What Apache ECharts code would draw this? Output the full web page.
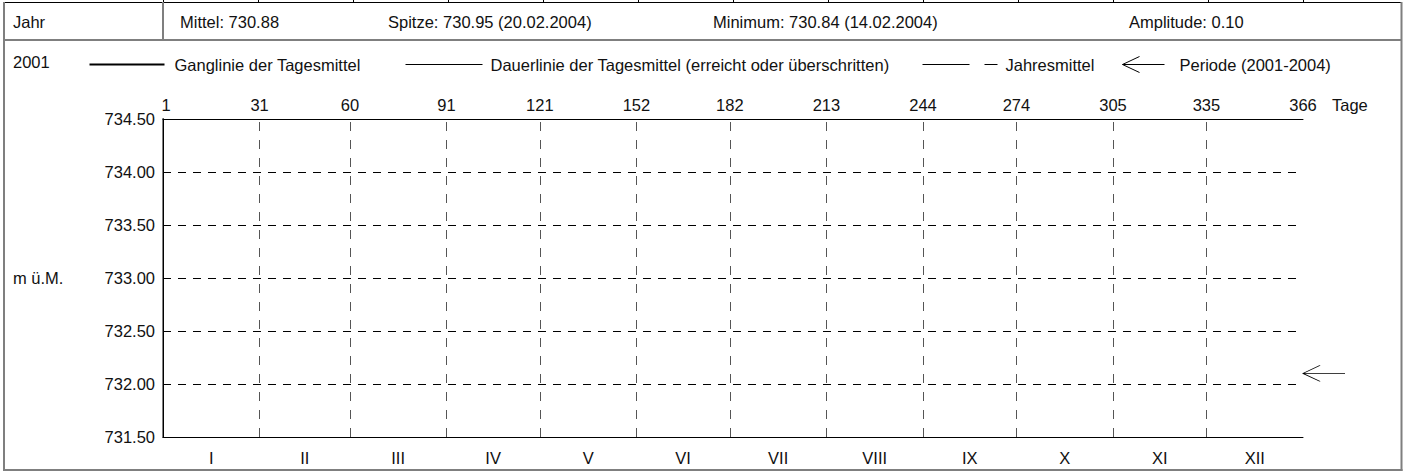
<!DOCTYPE html>
<html>
<head>
<meta charset="utf-8">
<title>Ganglinie 2001</title>
<script src="https://cdn.jsdelivr.net/npm/echarts@6.0.0/dist/echarts.min.js"></script>
<style>
  html, body { margin: 0; padding: 0; background: #fff; }
  #chart { width: 1406px; height: 472px; }
</style>
</head>
<body>
<div id="chart"></div>
<script>
// Tagesskala oben (Schaltjahr, 366 Tage)
const dayTicks = [1, 31, 60, 91, 121, 152, 182, 213, 244, 274, 305, 335, 366];
// Monatsgrenzen -> gestrichelte Senkrechte
const monthEnds = [31, 60, 91, 121, 152, 182, 213, 244, 274, 305, 335];
// Monatsmitten fuer die roemischen Monatsnamen
const monthMids = [15.5, 45.5, 75.5, 106, 136.5, 167, 197.5, 228.5, 259, 289.5, 320, 350.5];
const monthNames = ['I', 'II', 'III', 'IV', 'V', 'VI', 'VII', 'VIII', 'IX', 'X', 'XI', 'XII'];
// Hoehenskala m ü.M.
const levelMin = 731.5;
const levelMax = 734.5;
const levelStep = 0.5;
// Kennwerte der Kopfzeile
const headerTexts = ['Mittel: 730.88', 'Spitze: 730.95 (20.02.2004)', 'Minimum: 730.84 (14.02.2004)', 'Amplitude: 0.10'];
const headerLefts = [180, 388, 713, 1129];
// Reihen (Tageswerte liegen unterhalb des dargestellten Bereichs)
const ganglinie = [];
const dauerlinie = [];
const jahresmittel = [];
const periode = [[366, 732.10]];

const font = "'Liberation Sans', Arial, sans-serif";
const fs = 16.5;
const ink = '#111';
const frame = '#7f7f7f';
const arrowPath = 'path://M17,0 L0,8 L17,16 M0,8 L42,8';

let chart = echarts.init(document.getElementById('chart'), null, { renderer: 'svg' });

function legendBox(name, left, icon, width, lineWidth) {
    return {
        data: [{ name: name, icon: icon }],
        left: left,
        top: 54,
        padding: 0,
        itemWidth: width,
        itemHeight: 16,
        selectedMode: false,
        itemStyle: { color: 'none', borderColor: '#000', borderWidth: lineWidth },
        textStyle: { fontSize: fs, color: ink, fontFamily: font }
    };
}

function hline(x1, x2, y, w, c) {
    return { type: 'line', silent: true, shape: { x1: x1, y1: y, x2: x2, y2: y }, style: { stroke: c, lineWidth: w } };
}
function vline(x, y1, y2, w, c) {
    return { type: 'line', silent: true, shape: { x1: x, y1: y1, x2: x, y2: y2 }, style: { stroke: c, lineWidth: w } };
}
function label(text, x, y) {
    return { type: 'text', silent: true, x: x, y: y, style: { text: text, fontSize: fs, fontFamily: font, fill: ink, verticalAlign: 'middle' } };
}

let graphics = [
    hline(4, 1402, 2.5, 1, '#000'),
    vline(163, 2, 40, 2, frame),
    hline(4, 1402, 40, 2, frame),
    vline(4, 2, 471, 2, frame),
    vline(1401.5, 2, 471, 2, frame),
    hline(3, 1402.5, 470, 2, frame),
    label('Jahr', 13, 22),
    label('2001', 13, 62),
    label('m ü.M.', 13, 278),
    label('Tage', 1332, 104.5)
];
headerTexts.forEach((t, i) => graphics.push(label(t, headerLefts[i], 21.5)));

let option = {
    animation: false,
    backgroundColor: '#fff',
    textStyle: { fontFamily: font },
    graphic: graphics,
    legend: [
        legendBox('Ganglinie der Tagesmittel', 87, 'path://M0,0 M0,8 L75,8 M80,16', 80, 2),
        legendBox('Dauerlinie der Tagesmittel (erreicht oder überschritten)', 403, 'path://M0,0 M0,8 L77,8 M80,16', 80, 1),
        legendBox('Jahresmittel', 920, 'path://M0,0 M0,8 L47,8 M62,8 L75,8 M78,16', 78, 1),
        legendBox('Periode (2001-2004)', 1120, 'path://M17,0 L0,8 L17,16 M0,8 L42,8 M52,8', 52, 1)
    ],
    grid: [
        { left: 163, top: 119, right: 103, bottom: 35 },
        { left: 163, top: 0, right: 103, height: 2 }
    ],
    xAxis: [
        {
            gridIndex: 0,
            type: 'value',
            position: 'top',
            min: 0,
            max: 366,
            axisLine: { show: true, lineStyle: { color: '#000', width: 1 } },
            axisTick: { show: false },
            splitLine: { show: false },
            axisLabel: {
                customValues: dayTicks,
                margin: 6,
                fontSize: fs,
                color: ink,
                fontFamily: font,
                formatter: v => String(v)
            }
        },
        {
            gridIndex: 0,
            type: 'value',
            position: 'bottom',
            min: 0,
            max: 366,
            axisLine: { show: true, lineStyle: { color: '#000', width: 1 } },
            axisTick: { show: false },
            splitLine: { show: false },
            axisLabel: {
                customValues: monthMids,
                margin: 12,
                fontSize: fs,
                color: ink,
                fontFamily: font,
                formatter: v => monthNames[monthMids.indexOf(v)]
            }
        },
        {
            gridIndex: 1,
            type: 'value',
            min: 0,
            max: 12,
            interval: 1,
            axisLine: { show: false },
            axisTick: { show: false },
            axisLabel: { show: false },
            splitLine: { show: true, lineStyle: { color: '#000', width: 1 } }
        }
    ],
    yAxis: [
        {
            gridIndex: 0,
            type: 'value',
            min: levelMin,
            max: levelMax,
            interval: levelStep,
            axisLine: { show: true, lineStyle: { color: frame, width: 2 } },
            axisTick: { show: false },
            axisLabel: {
                margin: 8,
                fontSize: fs,
                color: ink,
                fontFamily: font,
                formatter: v => v.toFixed(2)
            },
            splitLine: { show: true, lineStyle: { color: '#000', width: 1, type: [8, 7] } }
        },
        {
            gridIndex: 0,
            type: 'value',
            position: 'right',
            min: levelMin,
            max: levelMax,
            interval: levelStep,
            axisLine: { show: true, lineStyle: { color: '#000', width: 1 } },
            axisTick: { show: false },
            axisLabel: { show: false },
            splitLine: { show: false }
        },
        { gridIndex: 1, type: 'value', show: false, min: 0, max: 1 }
    ],
    series: [
        {
            name: 'Ganglinie der Tagesmittel',
            type: 'line',
            showSymbol: false,
            lineStyle: { color: '#000', width: 2 },
            data: ganglinie
        },
        {
            name: 'Dauerlinie der Tagesmittel (erreicht oder überschritten)',
            type: 'line',
            showSymbol: false,
            lineStyle: { color: '#000', width: 1 },
            data: dauerlinie
        },
        {
            name: 'Jahresmittel',
            type: 'line',
            showSymbol: false,
            lineStyle: { color: '#000', width: 1 },
            data: jahresmittel
        },
        {
            name: 'Periode (2001-2004)',
            type: 'scatter',
            clip: false,
            silent: true,
            symbol: arrowPath,
            symbolSize: [42, 16],
            symbolOffset: [21, 0],
            itemStyle: { color: 'none', borderColor: '#000', borderWidth: 1, opacity: 1 },
            data: periode,
            markLine: {
                silent: true,
                symbol: ['none', 'none'],
                label: { show: false },
                lineStyle: { color: '#555', width: 1, type: [9, 9] },
                data: monthEnds.map(d => ({ xAxis: d }))
            }
        }
    ]
};
chart.setOption(option);
</script>
</body>
</html>
